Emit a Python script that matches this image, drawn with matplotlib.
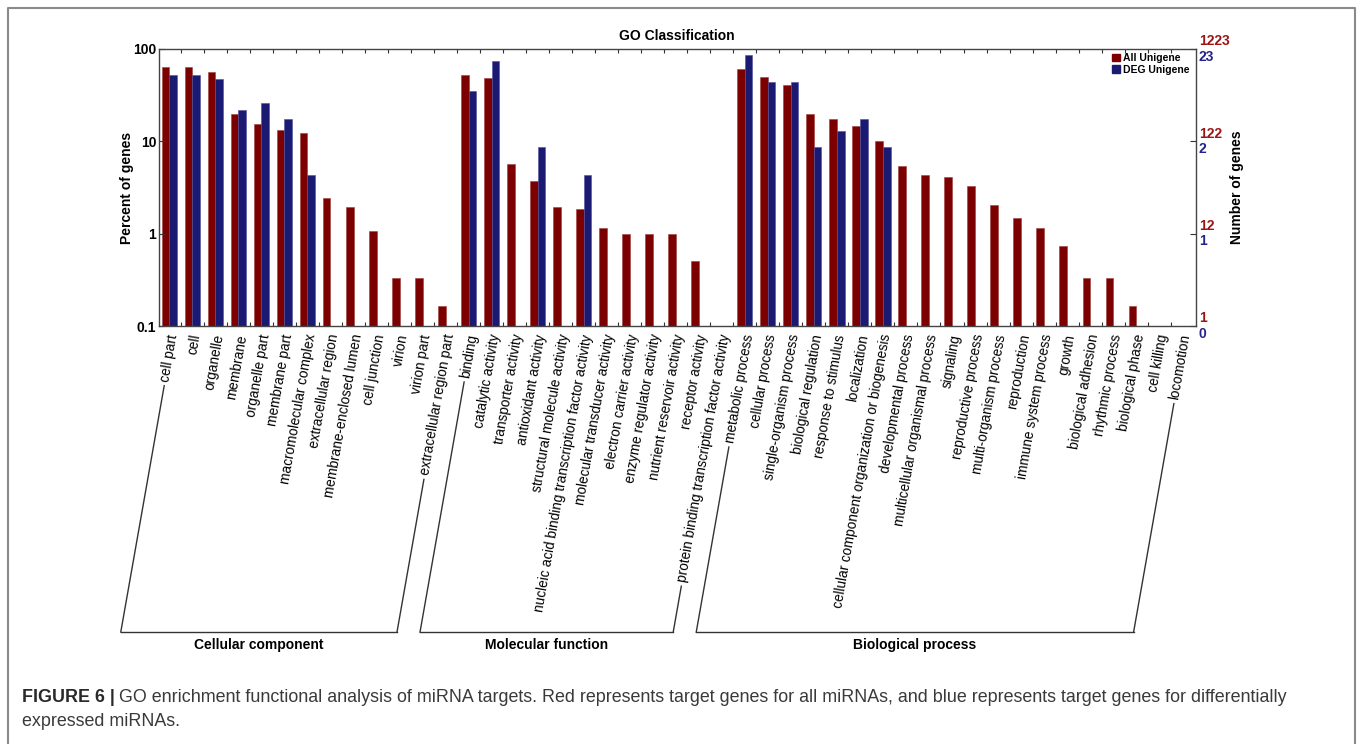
import numpy as np
import matplotlib
matplotlib.use("Agg")
import matplotlib.pyplot as plt
from matplotlib.patches import Patch
from matplotlib.lines import Line2D
import matplotlib.transforms as mtransforms

SANS = ["Liberation Sans", "DejaVu Sans"]
plt.rcParams["font.family"] = SANS

categories = [
    # cellular component
    "cell part", "cell", "organelle", "membrane", "organelle part", "membrane part",
    "macromolecular complex", "extracellular region", "membrane-enclosed lumen",
    "cell junction", "virion", "virion part", "extracellular region part",
    # molecular function
    "binding", "catalytic activity", "transporter activity", "antioxidant activity",
    "structural molecule activity", "nucleic acid binding transcription factor activity",
    "molecular transducer activity", "electron carrier activity",
    "enzyme regulator activity", "nutrient reservoir activity", "receptor activity",
    "protein binding transcription factor activity",
    # biological process
    "metabolic process", "cellular process", "single-organism process",
    "biological regulation", "response to stimulus", "localization",
    "cellular component organization or biogenesis", "developmental process",
    "multicellular organismal process", "signaling", "reproductive process",
    "multi-organism process", "reproduction", "immune system process", "growth",
    "biological adhesion", "rhythmic process", "biological phase", "cell killing",
    "locomotion",
]

# percent of genes in each GO term
all_pct = [63.5, 63.5, 56.0, 19.9, 15.3, 13.4, 12.3, 2.44, 1.95, 1.06, 0.33, 0.33, 0.165,
           52.0, 48.6, 5.63, 3.68, 1.95, 1.87, 1.14, 0.98, 0.98, 0.98, 0.51, 0,
           60.4, 49.4, 40.5, 19.6, 17.3, 14.7, 10.0, 5.43, 4.31, 4.07, 3.25, 2.04,
           1.46, 1.14, 0.73, 0.33, 0.33, 0.165, 0, 0]
deg_pct = [52.2, 52.2, 47.8, 21.7, 26.1, 17.4, 4.35, 0, 0, 0, 0, 0, 0,
           34.8, 73.9, 0, 8.7, 0, 4.35, 0, 0, 0, 0, 0, 0,
           87.0, 43.5, 43.5, 8.7, 13.0, 17.4, 8.7, 0, 0, 0, 0, 0,
           0, 0, 0, 0, 0, 0, 0, 0]

groups = [("Cellular component", 0, 12),
          ("Molecular function", 13, 24),
          ("Biological process", 25, 44)]

left_ticks = [100, 10, 1, 0.1]
left_ticklabels = ["100", "10", "1", "0.1"]
all_counts = ["1223", "122", "12", "1"]
deg_counts = ["23", "2", "1", "0"]

RED = "#7d0000"
BLUE = "#1a1a72"
RED_TXT = "#9a1616"
BLUE_TXT = "#23238c"
BOLD_SIZE = 10

W, H = 1358, 744
fig = plt.figure(figsize=(W / 100, H / 100), dpi=100)
ax = fig.add_axes([159 / W, 1 - 326 / H, 1037 / W, 277 / H])

x = np.arange(len(categories))
a = np.array(all_pct, dtype=float)
d = np.array(deg_pct, dtype=float)
bw = 0.33
ma, md = a > 0, d > 0
ax.bar(x[ma] - bw / 2, a[ma], width=bw, bottom=0, color=RED, edgecolor="#a04040", linewidth=0.4)
ax.bar(x[md] + bw / 2, d[md], width=bw, bottom=0, color=BLUE, edgecolor="#5050a0", linewidth=0.4)

ax.set_yscale("log")
ax.set_ylim(0.1, 100)
ax.set_xlim(-0.45, 44.6)
ax.set_yticks(left_ticks)
ax.set_yticklabels(left_ticklabels, fontsize=BOLD_SIZE, fontweight="bold")
ax.yaxis.set_minor_locator(matplotlib.ticker.NullLocator())
ax.set_xticks(np.arange(44) + 0.5)
ax.set_xticklabels([])
ax.tick_params(axis="x", direction="in", length=3, width=0.8, top=True, bottom=True, colors="#333333")
ax.tick_params(axis="y", direction="in", length=4, width=0.8, right=True, left=True, colors="#333333",
               labelcolor="black", pad=2)
for sp in ax.spines.values():
    sp.set_color("#444444")
    sp.set_linewidth(1.0)

# right-hand counts, red above and blue below each tick
rtrans = mtransforms.blended_transform_factory(ax.transAxes, ax.transData)
for v, rc, bc in zip(left_ticks, all_counts, deg_counts):
    ax.annotate(rc, xy=(1, v), xycoords=rtrans, xytext=(2, 5.5), textcoords="offset points",
                ha="left", va="center", color=RED_TXT, fontsize=BOLD_SIZE, fontweight="bold",
                annotation_clip=False)
    ax.annotate(bc, xy=(1, v), xycoords=rtrans, xytext=(2, -5.5), textcoords="offset points",
                ha="left", va="center", color=BLUE_TXT, fontsize=BOLD_SIZE, fontweight="bold",
                annotation_clip=False)

fig.text(677 / W, 1 - 36 / H, "GO Classification", ha="center", va="center",
         fontsize=BOLD_SIZE, fontweight="bold")
fig.text(127 / W, 1 - 187.5 / H, "Percent of genes", rotation=90, ha="center", va="center",
         fontsize=BOLD_SIZE, fontweight="bold")
fig.text(1237 / W, 1 - 187.5 / H, "Number of genes", rotation=90, ha="center", va="center",
         fontsize=BOLD_SIZE, fontweight="bold")

handles = [Patch(facecolor=RED, edgecolor=RED), Patch(facecolor=BLUE, edgecolor=BLUE)]
ax.legend(handles, ["All Unigene", "DEG Unigene"], loc="upper right",
          bbox_to_anchor=(0.994, 0.985), frameon=False, handlelength=0.75, handleheight=0.75,
          handletextpad=0.3, labelspacing=0.15, borderpad=0, borderaxespad=0,
          prop={"size": 7.5, "weight": "bold"})

# slanted category labels
ROT = 80
xlab = mtransforms.blended_transform_factory(ax.transData, ax.transAxes)
labels = []
for i, name in enumerate(categories):
    t = ax.text(i + 0.17, -0.03, name, transform=xlab, rotation=ROT, rotation_mode="anchor",
                ha="right", va="center", fontsize=9.8)
    labels.append(t)

fig.canvas.draw()
renderer = fig.canvas.get_renderer()
tan = np.tan(np.radians(ROT))
y_base = H - 632  # display y of the bracket baseline
to_fig = fig.transFigure.inverted()


def fig_line(xs, ys):
    pts = to_fig.transform(np.column_stack([xs, ys]))
    fig.add_artist(Line2D(pts[:, 0], pts[:, 1], color="#333333", linewidth=1.0))


for name, i0, i1 in groups:
    ends = []
    for i in (i0, i1):
        t = labels[i]
        ax_pt = xlab.transform((i + 0.17, -0.03))
        bb = t.get_window_extent(renderer)
        y_top = bb.y0 - 3
        x_top = ax_pt[0] - (ax_pt[1] - y_top) / tan
        x_bot = ax_pt[0] - (ax_pt[1] - y_base) / tan
        fig_line([x_top, x_bot], [y_top, y_base])
        ends.append(x_bot)
    fig_line(ends, [y_base, y_base])
    fig.text((ends[0] + ends[1]) / 2 / W, (y_base - 13) / H, name, ha="center", va="center",
             fontsize=BOLD_SIZE, fontweight="bold")

# frame around the figure panel
fig.add_artist(Line2D([7.5 / W, 7.5 / W, 1355 / W, 1355 / W], [0, 1 - 8 / H, 1 - 8 / H, 0],
                      color="#8a8a8a", linewidth=1.5))

# caption
CAP = 12.9
t1 = fig.text(22 / W, 1 - 697 / H, "FIGURE 6 |", ha="left", va="center", fontsize=CAP,
              fontweight="bold", color="#2a2a2a")
fig.canvas.draw()
x1 = t1.get_window_extent(fig.canvas.get_renderer()).x1
fig.text((x1 + 4) / W, 1 - 697 / H,
         "GO enrichment functional analysis of miRNA targets. Red represents target genes for all "
         "miRNAs, and blue represents target genes for differentially",
         ha="left", va="center", fontsize=CAP, color="#3a3a3a")
fig.text(22 / W, 1 - 722 / H, "expressed miRNAs.", ha="left", va="center", fontsize=CAP,
         color="#3a3a3a")

fig.savefig("out.png", dpi=100)
